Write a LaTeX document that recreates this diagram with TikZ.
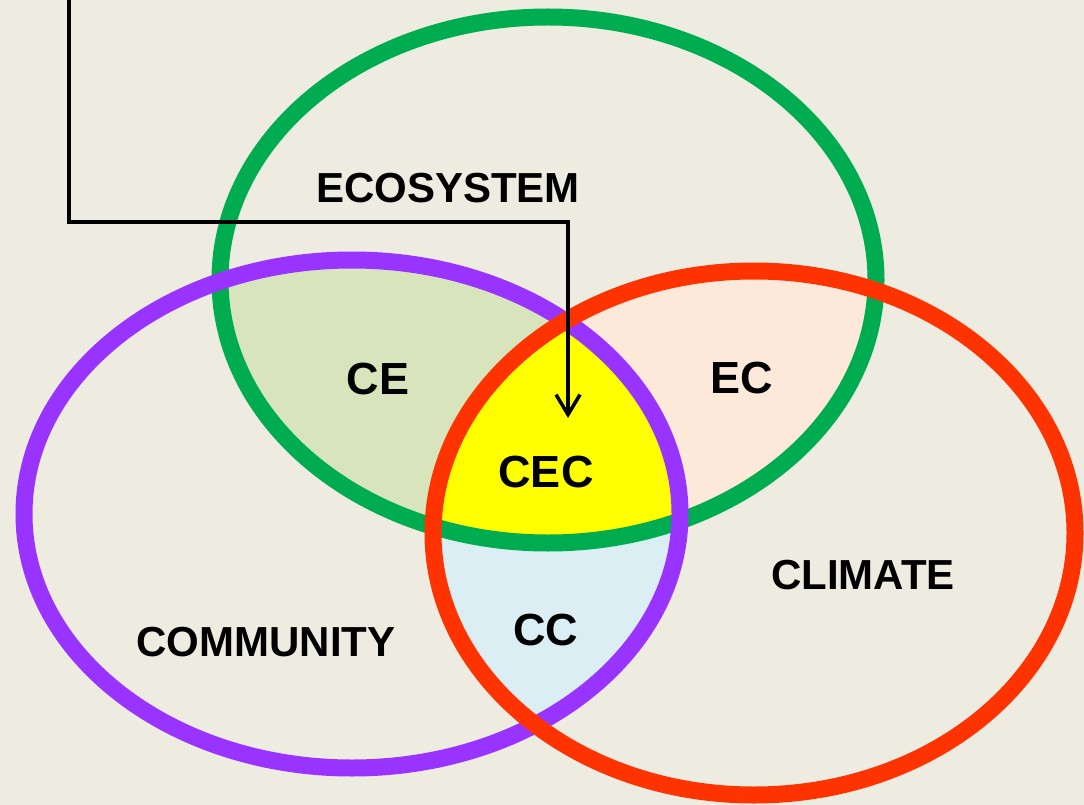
\documentclass[tikz,border=0pt]{standalone}
\usepackage{fontspec}
\setmainfont{Liberation Sans}
\usetikzlibrary{arrows.meta}

\definecolor{bgcol}{HTML}{EEEBE0}
\definecolor{ecogreen}{HTML}{00AC50}
\definecolor{compurple}{HTML}{9933FF}
\definecolor{climred}{HTML}{FF3300}
\definecolor{cefill}{HTML}{D8E4BC}
\definecolor{ecfill}{HTML}{FDE9D9}
\definecolor{ccfill}{HTML}{DAEEF3}
\definecolor{cecfill}{HTML}{FFFF00}

\tikzset{
  ring/.style={line width=17pt},
  biglabel/.style={font=\bfseries\fontsize{42}{42}\selectfont, inner sep=0pt},
  smalllabel/.style={font=\bfseries\fontsize{45}{45}\selectfont, inner sep=0pt},
  pointer/.style={line width=4pt, -{Straight Barb[length=20pt,width=24pt,line width=3.5pt]}}
}

% the three sets as reusable paths
\def\ecopath{(548,280) ellipse [x radius=328pt, y radius=263pt]}
\def\compath{(352,514) ellipse [x radius=328pt, y radius=254pt]}
\def\climpath{(754,533) ellipse [x radius=321pt, y radius=262pt]}

\begin{document}
\begin{tikzpicture}[x=1pt, y=-1pt]
  \useasboundingbox (0,0) rectangle (1084,805);
  \fill[bgcol] (0,0) rectangle (1084,805);

  % pairwise overlaps
  \begin{scope}
    \clip \ecopath;
    \fill[cefill] \compath;
  \end{scope}
  \begin{scope}
    \clip \ecopath;
    \fill[ecfill] \climpath;
  \end{scope}
  \begin{scope}
    \clip \compath;
    \fill[ccfill] \climpath;
  \end{scope}
  % triple overlap
  \begin{scope}
    \clip \ecopath;
    \clip \compath;
    \fill[cecfill] \climpath;
  \end{scope}

  % outlines
  \draw[ring, ecogreen] \ecopath;
  \draw[ring, compurple] \compath;
  \draw[ring, climred] \climpath;

  % labels
  \node[biglabel] (eco) at (448,188) {ECOSYSTEM};
  \node[biglabel] (com) at (266,642) {COMMUNITY};
  \node[biglabel] (clim) at (863,575) {CLIMATE};
  \node[smalllabel] (ce) at (378,379) {CE};
  \node[smalllabel] (ec) at (742,378) {EC};
  \node[smalllabel] (cc) at (546,630) {CC};
  \node[smalllabel] (cec) at (546,472) {CEC};

  % pointer into the centre
  \coordinate (ptrstart) at (69,-2);
  \coordinate (ptrbend) at (69,222);
  \coordinate (ptrturn) at (568,222);
  \coordinate (ptrend) at (568,418);
  \draw[pointer] (ptrstart) -- (ptrbend) -- (ptrturn) -- (ptrend);
\end{tikzpicture}
\end{document}
